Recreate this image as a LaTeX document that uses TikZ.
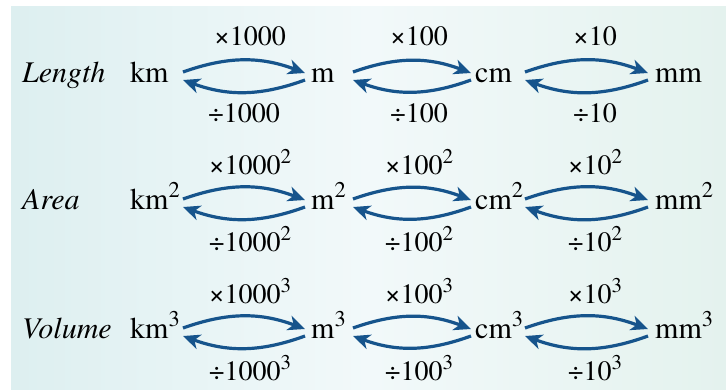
\documentclass[tikz,border=0pt]{standalone}
\usepackage{fontspec}
\setmainfont{TeX Gyre Termes}
\usetikzlibrary{arrows.meta}
\definecolor{arrowblue}{RGB}{22,84,140}
\definecolor{bgleft}{RGB}{221,239,240}
\definecolor{bgmid}{RGB}{242,249,250}
\definecolor{bgright}{RGB}{228,242,238}
\newcommand\upx[1]{\raisebox{0.38em}{\fontsize{0.75\dimexpr\csname f@size\endcsname pt\relax}{10}\selectfont #1}}
\begin{document}
\begin{tikzpicture}[x=1pt,y=1pt,
  every node/.style={inner sep=0pt, font=\fontsize{28}{34}\selectfont},
  unit/.style={anchor=base west, font=\fontsize{30}{36}\selectfont},
  cat/.style={anchor=base west, font=\fontsize{30}{36}\selectfont\itshape},
  oplabel/.style={anchor=base},
  conv/.style={draw=arrowblue, line width=3.2pt, -{Stealth[length=17pt,width=15pt,inset=5pt]}, bend left=20}]
\useasboundingbox (0,0) rectangle (726,-389);
\shade[left color=bgleft,right color=bgright,middle color=bgmid] (11,-6) rectangle (726,-389);
\foreach \r/\b/\s/\name/\tu/\td/\dx in {1/82//Length/37/40/-6, 2/209/2/Area/35/42/0, 3/338/3/Volume/35/42/0}{
  \node[cat] (cat\r) at (22,-\b) {\name};
  \node[unit] (km\r) at (130,-\b) {km\upx{\s}};
  \node[unit] (m\r) at (311,-\b) {m\upx{\s}};
  \node[unit] (cm\r) at (475,-\b) {cm\upx{\s}};
  \node[unit] (mm\r) at (655,-\b) {mm\upx{\s}};
  \foreach \c/\xa/\xb/\xl/\val in {1/183/305/250/1000, 2/353/471/419/100, 3/525/648/595/10}{
    \coordinate (a\r\c) at (\xa,-\b);
    \coordinate (b\r\c) at (\xb,-\b);
    \node[oplabel] (mul\r\c) at (\xl,{-\b+\tu}) {×\val\upx{\s}};
    \node[oplabel] (div\r\c) at ({\xl+(\c==1)*\dx},{-\b-\td}) {÷\val\upx{\s}};
    \draw[conv] ([yshift=10pt]a\r\c) to ([yshift=9pt]b\r\c);
    \draw[conv] ([yshift=2pt]b\r\c) to ([yshift=2pt]a\r\c);
  }
}
\end{tikzpicture}
\end{document}
